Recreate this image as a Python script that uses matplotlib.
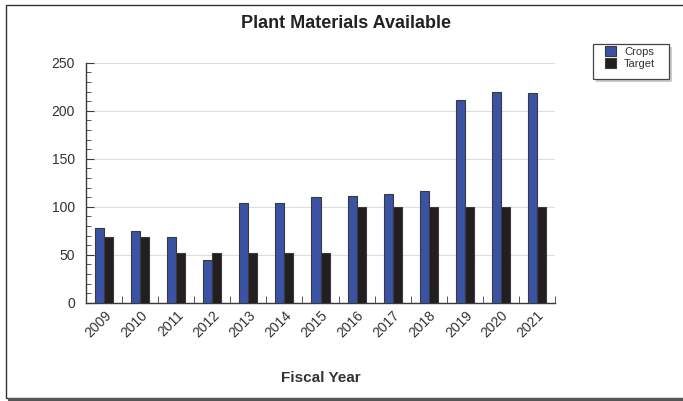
import matplotlib.pyplot as plt
import numpy as np
from matplotlib.patches import Rectangle
from matplotlib.ticker import MultipleLocator, FixedLocator

plt.rcParams['font.family'] = ['Liberation Sans', 'DejaVu Sans']

years = ['2009', '2010', '2011', '2012', '2013', '2014', '2015',
         '2016', '2017', '2018', '2019', '2020', '2021']
crops = [78, 75, 68, 44, 104, 104, 110, 111, 113, 116, 211, 219, 218]
target = [68, 68, 52, 52, 52, 52, 52, 100, 100, 100, 100, 100, 100]

blue = '#3a53a5'
black = '#231f20'
edge = '#3a3a3a'
text_c = '#333333'

W, H = 683, 401
fig = plt.figure(figsize=(W / 100, H / 100), dpi=100)
ax = fig.add_axes([86 / W, 1 - 302.7 / H, 469 / W, 240 / H])

x = np.arange(len(years))
w = 0.25
ax.bar(x - w / 2, crops, w, color=blue, edgecolor=edge, linewidth=0.8, label='Crops', zorder=3)
ax.bar(x + w / 2, target, w, color=black, edgecolor=edge, linewidth=0.8, label='Target', zorder=3)

ax.set_xlim(-0.5, len(years) - 0.5)
ax.set_ylim(0, 250)
ax.yaxis.set_major_locator(MultipleLocator(50))
ax.yaxis.set_minor_locator(MultipleLocator(10))
ax.grid(axis='y', color='#dddddd', linewidth=0.8, zorder=0)

ax.set_xticks(x)
ax.set_xticklabels(years, rotation=45, ha='right', rotation_mode='anchor',
                   fontsize=10, color=text_c)
ax.xaxis.set_minor_locator(FixedLocator(np.arange(0.5, len(years), 1.0)))
ax.tick_params(axis='x', which='major', length=0, pad=4)
ax.tick_params(axis='x', which='minor', direction='in', length=5, color=edge)
ax.tick_params(axis='y', which='major', direction='in', length=6, color=edge,
               labelsize=10, labelcolor=text_c, pad=8)
ax.tick_params(axis='y', which='minor', direction='in', length=3.5, color=edge)

for s in ['top', 'right']:
    ax.spines[s].set_visible(False)
for s in ['left', 'bottom']:
    ax.spines[s].set_color(edge)
    ax.spines[s].set_linewidth(1.0)

ax.set_xlabel('Fiscal Year', fontsize=11, fontweight='bold', color=text_c, labelpad=22)
fig.text(346 / W, 1 - 23 / H, 'Plant Materials Available', ha='center', va='center',
         fontsize=13, fontweight='bold', color='#222222')

# legend box with light shadow, drawn by hand
fig.patches.append(Rectangle((596 / W, 1 - 82 / H), 76 / W, 35 / H,
                             transform=fig.transFigure, facecolor='#cccccc',
                             edgecolor='none'))
fig.patches.append(Rectangle((593 / W, 1 - 79 / H), 76 / W, 35 / H,
                             transform=fig.transFigure, facecolor='white',
                             edgecolor='#444444', linewidth=0.9))
leg = fig.legend(loc='upper left', bbox_to_anchor=(605 / W, 1 - 46 / H),
                 fontsize=8, frameon=False, handlelength=1.0,
                 handleheight=1.0, handletextpad=0.7, borderpad=0, labelspacing=0.15,
                 borderaxespad=0)
for t in leg.get_texts():
    t.set_color(text_c)

# outer frame with shadow at the bottom
fig.patches.append(Rectangle((6 / W, 1 - 398 / H), 690 / W, 393 / H,
                             transform=fig.transFigure, fill=False,
                             edgecolor='#333333', linewidth=1.0))
fig.patches.append(Rectangle((8 / W, 0), 690 / W, 3 / H,
                             transform=fig.transFigure, facecolor='#555555',
                             edgecolor='none'))

fig.savefig('out.png', dpi=100)
